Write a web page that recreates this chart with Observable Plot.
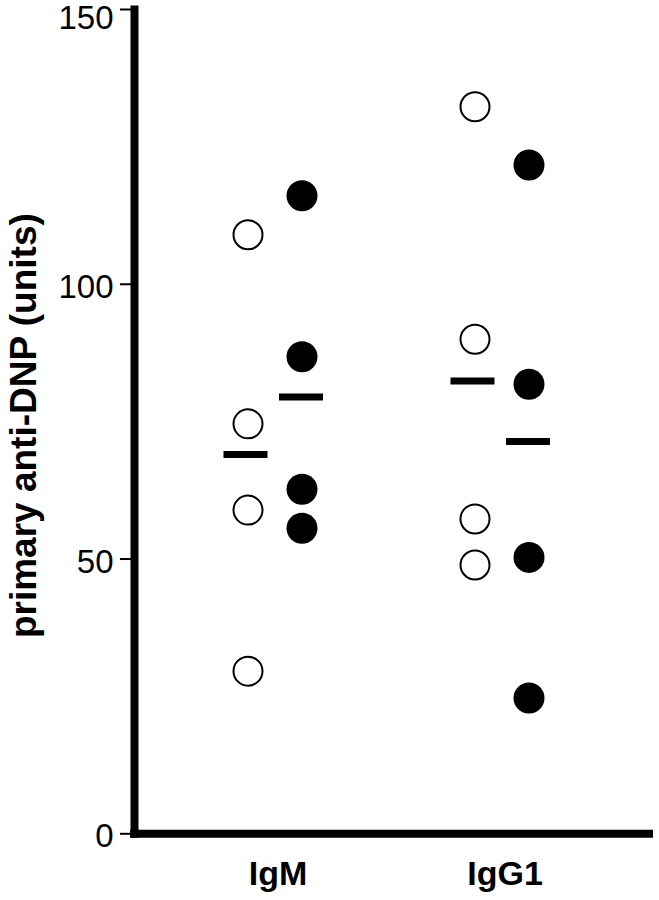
<!DOCTYPE html>
<html>
<head>
<meta charset="utf-8">
<script src="https://cdn.jsdelivr.net/npm/d3@7"></script>
<script src="https://cdn.jsdelivr.net/npm/@observablehq/plot@0.6"></script>
<style>
  html, body { margin: 0; padding: 0; background: #fff; }
  #chart { width: 659px; height: 900px; }
</style>
</head>
<body>
<div id="chart"></div>
<script>
// Categories
const groups = ["IgM", "IgG1"];
const yTicks = [0, 50, 100, 150];
const yTicksLower = [0, 50, 100];
const yTicksTop = [150];
const yLabel = "primary anti-DNP (units)";

// Open circles (series A), per category
const openIgM  = [109.0, 74.6, 58.9, 29.6];
const openIgG1 = [132.3, 90.0, 57.3, 48.9];
// Filled circles (series B), per category
const filledIgM  = [116.1, 86.8, 62.7, 55.6];
const filledIgG1 = [121.7, 81.8, 50.3, 24.7];
// Mean bars shown in the figure
const meanOpen   = [69.0, 82.4];
const meanFilled = [79.5, 71.4];

const openData = [
  ...openIgM.map(v => ({group: "IgM", value: v})),
  ...openIgG1.map(v => ({group: "IgG1", value: v}))
];
const filledData = [
  ...filledIgM.map(v => ({group: "IgM", value: v})),
  ...filledIgG1.map(v => ({group: "IgG1", value: v}))
];
const meanOpenData = groups.map((g, i) => ({group: g, value: meanOpen[i]}));
const meanFilledData = groups.map((g, i) => ({group: g, value: meanFilled[i]}));

const chart = Plot.plot({
  width: 659,
  height: 900,
  marginLeft: 134,
  marginRight: 10,
  marginTop: 9,
  marginBottom: 66.7,
  style: {fontFamily: "Liberation Sans, Arial, sans-serif", fontSize: "33px", color: "#000", background: "#fff"},
  x: {type: "band", domain: groups, range: [161, 615], padding: 0},
  y: {domain: [0, 150]},
  marks: [
    Plot.axisY({ticks: yTicks, tickSize: 14, strokeWidth: 2, label: null, tickFormat: () => ""}),
    Plot.axisY({ticks: yTicksLower, tickSize: 0, tickPadding: 21, label: null, fontSize: 33, dy: 3}),
    Plot.axisY({ticks: yTicksTop, tickSize: 0, tickPadding: 21, label: null, fontSize: 33, dy: 9}),
    Plot.axisX({tickSize: 0, tickPadding: 27, label: null, fontSize: 34, fontWeight: "bold", dx: 3}),
    Plot.frame({anchor: "left", strokeWidth: 8, strokeLinecap: "square"}),
    Plot.ruleY([0], {strokeWidth: 8, strokeLinecap: "square"}),
    Plot.dot(openData, {x: "group", y: "value", dx: -27, r: 14.5, fill: "#fff", stroke: "#000", strokeWidth: 2}),
    Plot.dot(filledData, {x: "group", y: "value", dx: 27, r: 15.5, fill: "#000", stroke: "none"}),
    Plot.tickY(meanOpenData, {x: "group", y: "value", strokeWidth: 7, insetLeft: 62.5, insetRight: 120.5}),
    Plot.tickY(meanFilledData, {x: "group", y: "value", strokeWidth: 7, insetLeft: 118, insetRight: 65}),
    Plot.text([yLabel], {frameAnchor: "left", rotate: -90, dx: -110, dy: 4, text: d => d, fontSize: 37, fontWeight: "bold", textAnchor: "middle", lineAnchor: "middle", fill: "#000"})
  ]
});
document.getElementById("chart").append(chart);
</script>
</body>
</html>
